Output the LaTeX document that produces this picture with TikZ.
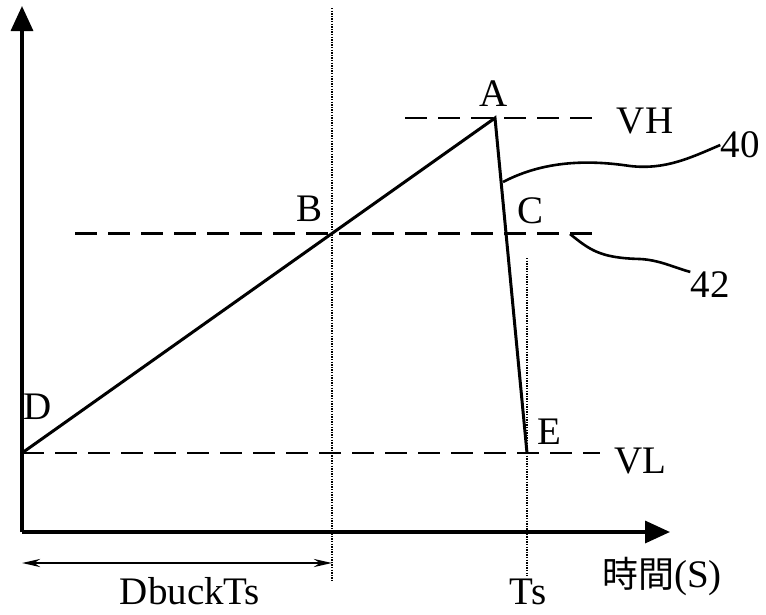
\documentclass[tikz,border=0pt]{standalone}
\usepackage{fontspec}
\setmainfont{Liberation Serif}
\newfontfamily\cjk{Noto Sans CJK TC}
\usetikzlibrary{arrows.meta}
\tikzset{
  lbl/.style={font=\fontsize{39}{44}\selectfont, inner sep=0pt},
  axis/.style={line width=3.4pt, -{Triangle[length=25pt,width=22pt]}},
  wave/.style={line width=3pt},
  dashline/.style={line width=2.6pt, dash pattern=on 22pt off 11pt},
  dotline/.style={line width=2pt, dash pattern=on 1.4pt off 1.2pt},
  leader/.style={line width=2.6pt},
  span/.style={line width=2.6pt, {Stealth[length=18pt,width=8pt]}-{Stealth[length=18pt,width=8pt]}}
}
\begin{document}
\begin{tikzpicture}[x=1pt,y=-1pt]
\useasboundingbox (0,0) rectangle (766,614);
% key points
\coordinate (O) at (22,532);
\coordinate (D) at (22,453);
\coordinate (A) at (495,118);
\coordinate (B) at (332,233.5);
\coordinate (C) at (506,233.5);
\coordinate (E) at (527,453);
\coordinate (Ytip) at (22,6);
\coordinate (Xtip) at (670,532);
% axes
\draw[axis] (O) -- (Ytip);
\draw[axis] (O) -- (Xtip);
% dashed levels
\coordinate (vhL) at (405,118); \coordinate (vhR) at (600,118);
\coordinate (bcL) at (75,233.5); \coordinate (bcR) at (600,233.5);
\coordinate (vlR) at (600,453);
\draw[dashline] (vhL) -- (vhR);
\draw[dashline] (bcL) -- (bcR);
\draw[dashline] (D) -- (vlR);
% dotted verticals
\coordinate (d1T) at (332,8); \coordinate (d1B) at (332,582);
\coordinate (d2T) at (527,258); \coordinate (d2B) at (527,576);
\draw[dotline] (d1T) -- (d1B);
\draw[dotline] (d2T) -- (d2B);
% waveform
\draw[wave, line join=miter] (D) -- (A) -- (E);
% span arrow
\coordinate (sL) at (22,563); \coordinate (sR) at (332,563);
\draw[span] (sL) -- (sR);
% labels
\node[lbl] (lA) at (494,94) {A};
\node[lbl] (lB) at (310,209) {B};
\node[lbl] (lC) at (531,211) {C};
\node[lbl] (lD) at (38,407) {D};
\node[lbl] (lE) at (549,432) {E};
\node[lbl] (lVH) at (645,121) {VH};
\node[lbl] (lVL) at (640,461) {VL};
\node[lbl] (l40) at (740,145) {40};
\node[lbl] (l42) at (710,285) {42};
\node[lbl] (lDb) at (190,591) {DbuckTs};
\node[lbl] (lTs) at (528,592) {Ts};
\node[lbl, anchor=west] (lT) at (602,577) {{\cjk\fontsize{36}{40}\selectfont 時間}(S)};
% leaders
\coordinate (p40) at (503,182);
\coordinate (p42) at (570,234);
\draw[leader] (p40) .. controls (545,160) and (590,160) .. (630,166) .. controls (665,170) and (690,158) .. (l40.west);
\draw[leader] (p42) .. controls (590,250) and (600,258) .. (640,259) .. controls (660,260) and (675,268) .. (l42.north west);
\end{tikzpicture}
\end{document}
